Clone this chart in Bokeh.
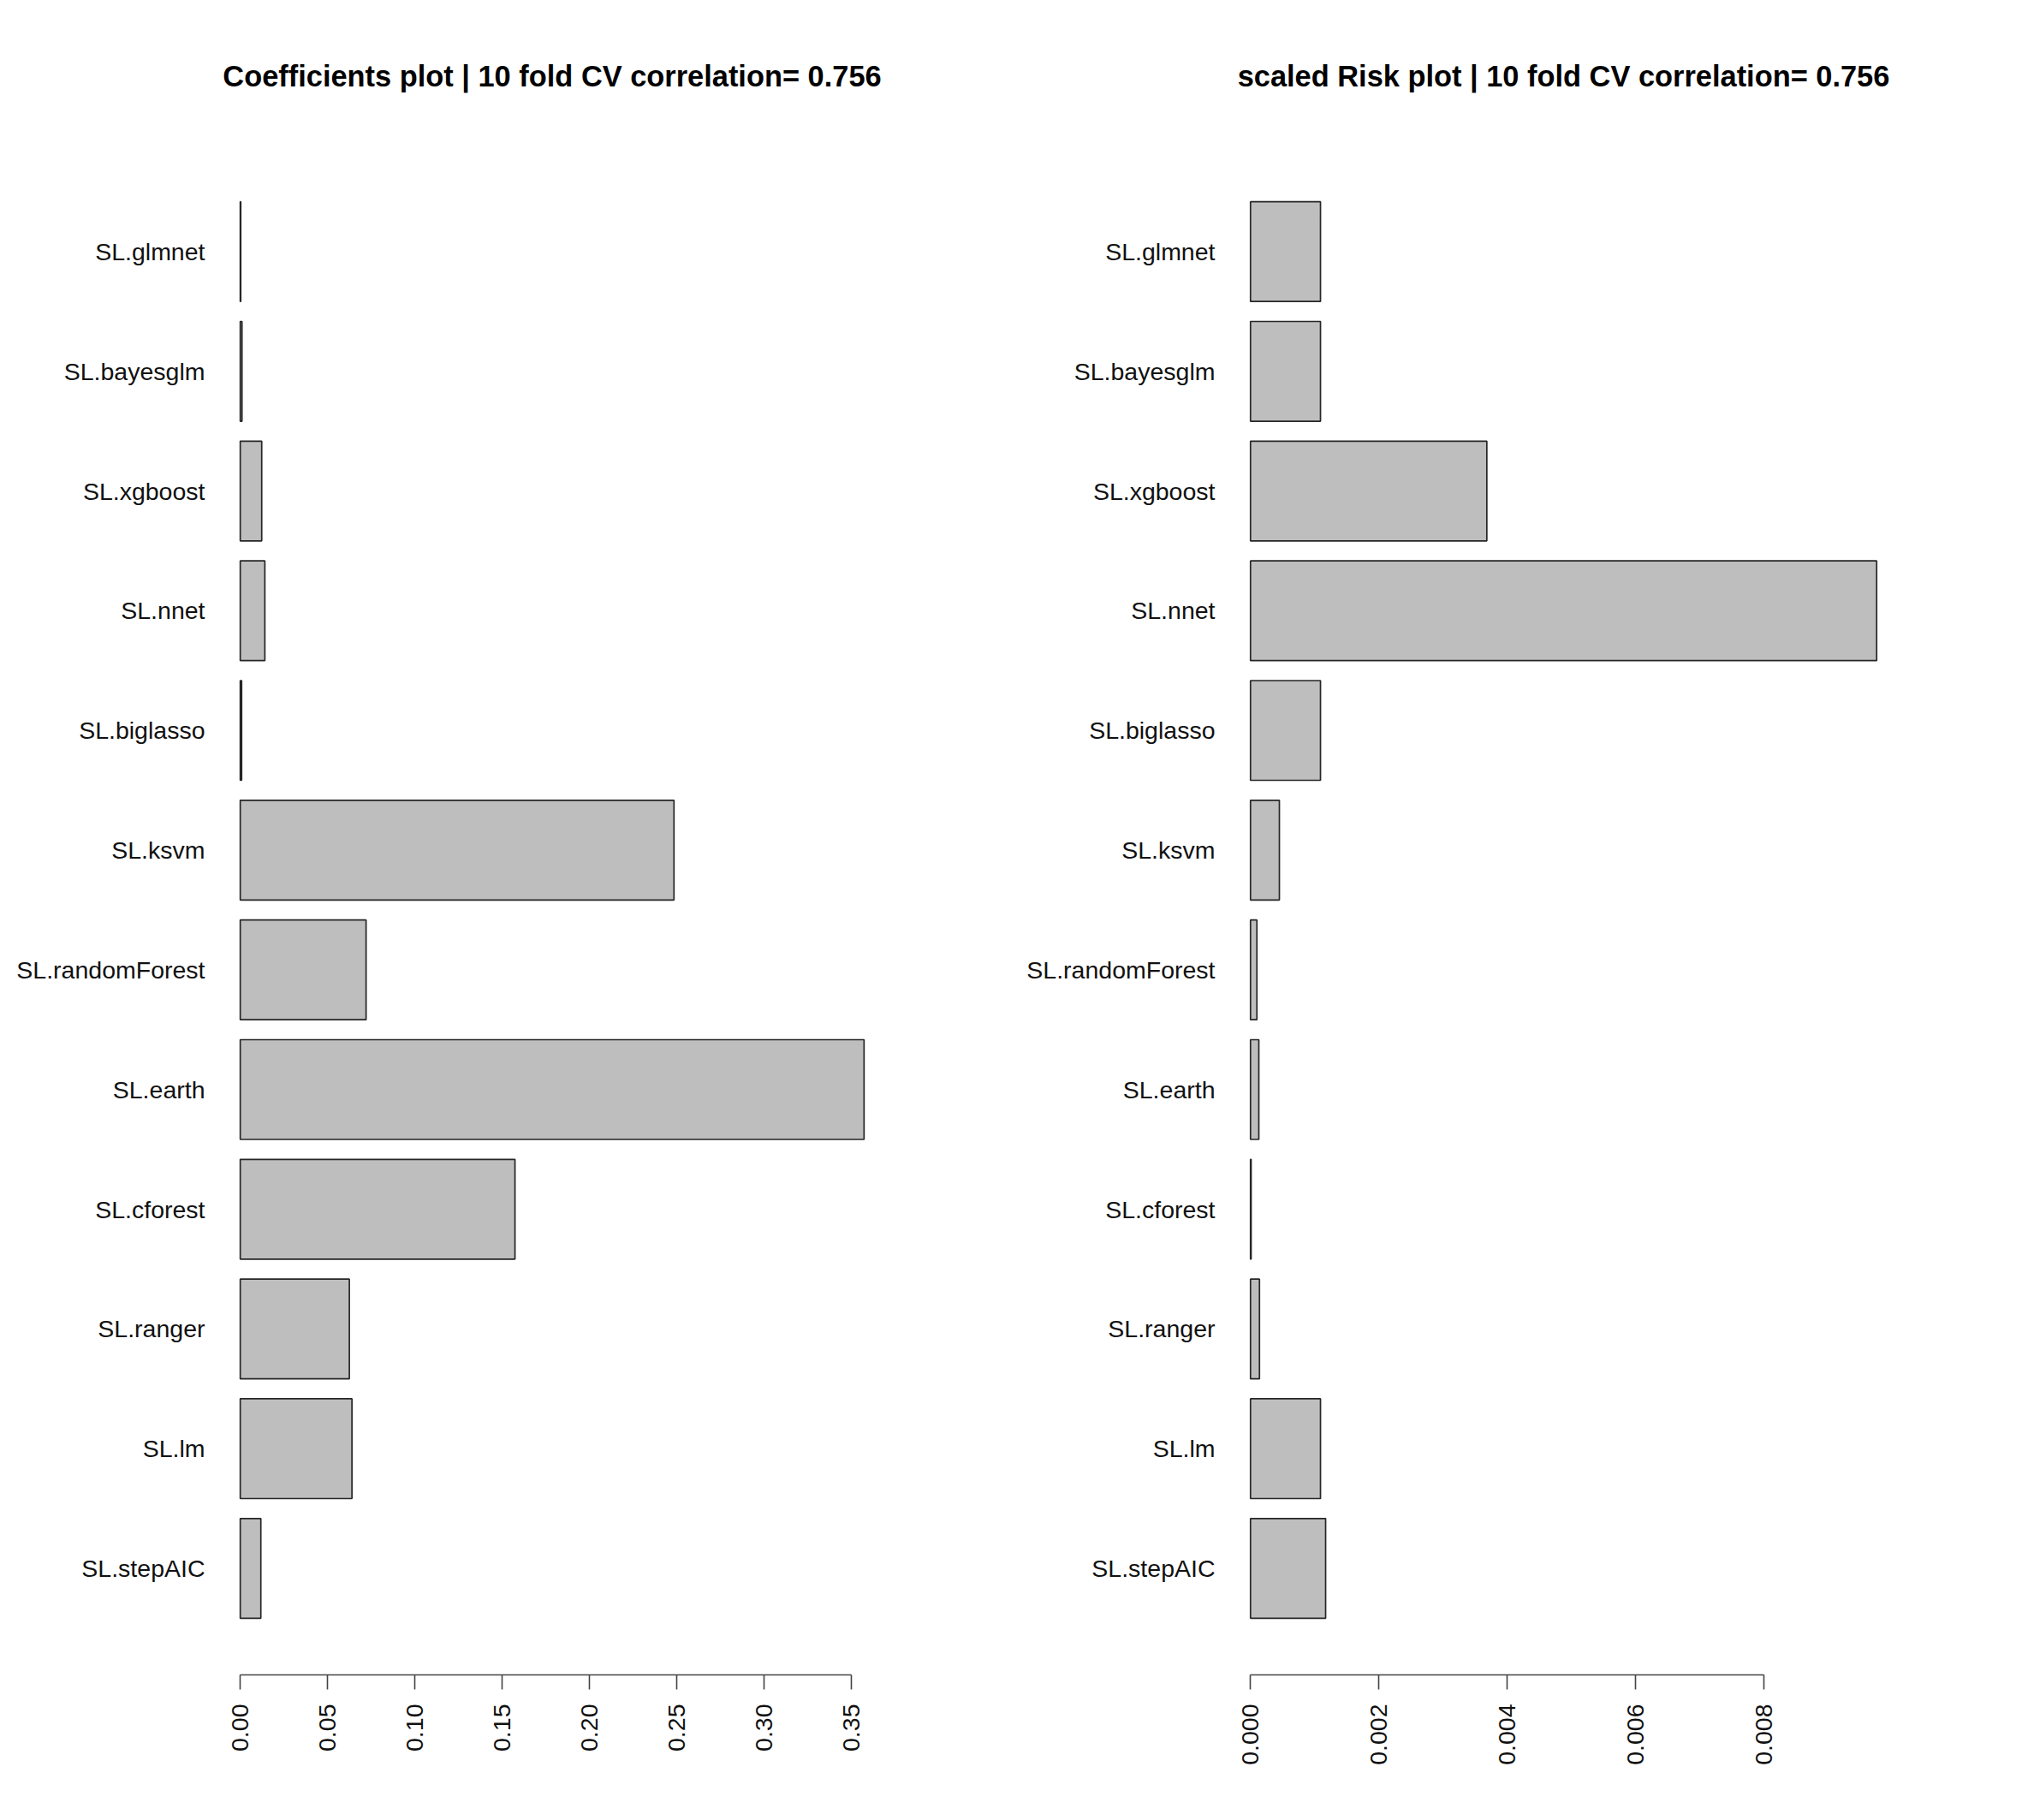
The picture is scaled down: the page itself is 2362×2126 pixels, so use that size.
import math
from bokeh.plotting import figure
from bokeh.layouts import row
from bokeh.models import FactorRange, Range1d, FixedTicker, PrintfTickFormatter
from bokeh.embed import file_html
from bokeh.resources import INLINE

# ---- data ----
learners = ["SL.glmnet", "SL.bayesglm", "SL.xgboost", "SL.nnet", "SL.biglasso",
            "SL.ksvm", "SL.randomForest", "SL.earth", "SL.cforest", "SL.ranger",
            "SL.lm", "SL.stepAIC"]
coefficients = [0.0003, 0.0010, 0.0123, 0.0141, 0.0008,
                0.2485, 0.0721, 0.3574, 0.1574, 0.0625,
                0.0640, 0.0118]
scaled_risk = [0.00109, 0.00109, 0.00368, 0.00975, 0.00109,
               0.00045, 0.00010, 0.00013, 0.00001, 0.00014,
               0.00109, 0.00117]
coef_ticks = [0.00, 0.05, 0.10, 0.15, 0.20, 0.25, 0.30, 0.35]
risk_ticks = [0.000, 0.002, 0.004, 0.006, 0.008]
title_left = "Coefficients plot | 10 fold CV correlation= 0.756"
title_right = "scaled Risk plot | 10 fold CV correlation= 0.756"

FONT = "Liberation Sans"
LABEL_SIZE = "28.5px"


def make_panel(values, ticks, fmt, title, border_left, frame_w, border_right):
    vmax = max(values)
    factors = list(reversed(learners))
    p = figure(
        y_range=FactorRange(factors=factors, range_padding=0.39,
                            range_padding_units="absolute"),
        x_range=Range1d(-0.04 * vmax, 1.04 * vmax),
        frame_width=frame_w, frame_height=1787,
        min_border_left=border_left, min_border_right=border_right,
        min_border_top=169, min_border_bottom=150,
        output_backend="svg", toolbar_location=None,
        title=title,
    )
    p.hbar(y=learners, left=0, right=values, height=1 / 1.2,
           fill_color="#bebebe", line_color="#262626", line_width=1.7)

    p.title.align = "center"
    p.title.text_font = FONT
    p.title.text_font_size = "34.4px"
    p.title.text_font_style = "bold"
    p.title.text_color = "#000000"
    p.title.standoff = 124

    p.xgrid.visible = False
    p.ygrid.visible = False
    p.outline_line_color = None
    p.background_fill_color = "white"
    p.border_fill_color = "white"

    xa = p.xaxis[0]
    xa.ticker = FixedTicker(ticks=ticks)
    xa.formatter = PrintfTickFormatter(format=fmt)
    xa.bounds = (ticks[0], ticks[-1])
    xa.minor_tick_line_color = None
    xa.major_tick_out = 17
    xa.major_tick_in = 0
    xa.axis_line_color = "#444444"
    xa.axis_line_width = 1.6
    xa.major_tick_line_color = "#444444"
    xa.major_tick_line_width = 1.6
    xa.major_label_orientation = math.pi / 2
    xa.major_label_standoff = 17
    xa.major_label_text_font = FONT
    xa.major_label_text_font_size = LABEL_SIZE
    xa.major_label_text_color = "#111111"

    ya = p.yaxis[0]
    ya.axis_line_color = None
    ya.major_tick_line_color = None
    ya.minor_tick_line_color = None
    ya.major_tick_out = 0
    ya.major_tick_in = 0
    ya.major_label_standoff = 12
    ya.major_label_text_font = FONT
    ya.major_label_text_font_size = LABEL_SIZE
    ya.major_label_text_color = "#111111"
    return p


p1 = make_panel(coefficients, coef_ticks, "%.2f", title_left, 251, 787, 143)
p2 = make_panel(scaled_risk, risk_ticks, "%.3f", title_right, 250, 790, 133)

layout = row(p1, p2)
open("out.html", "w").write(file_html(layout, INLINE))
